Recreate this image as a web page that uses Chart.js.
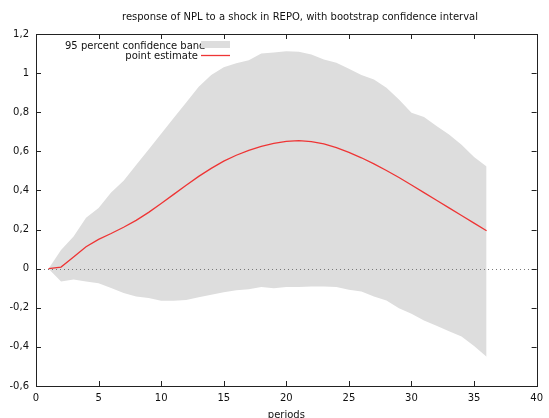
<!DOCTYPE html>
<html>
<head>
<meta charset="utf-8">
<script src="https://cdn.jsdelivr.net/npm/chart.js@4.4.1/dist/chart.umd.min.js"></script>
<style>
  html, body { margin: 0; padding: 0; background: #fff; }
</style>
</head>
<body>
<canvas id="irf" width="549" height="418"></canvas>
<script>
// data
const periods = [1, 2, 3, 4, 5, 6, 7, 8, 9, 10, 11, 12, 13, 14, 15, 16, 17, 18,
  19, 20, 21, 22, 23, 24, 25, 26, 27, 28, 29, 30, 31, 32, 33, 34, 35, 36];
const upperBand = [0, 0.095, 0.165, 0.26, 0.31, 0.39, 0.45, 0.53, 0.61, 0.69, 0.77, 0.85,
  0.93, 0.99, 1.03, 1.05, 1.066, 1.10, 1.105, 1.112, 1.109, 1.095, 1.07, 1.053,
  1.022, 0.99, 0.967, 0.925, 0.865, 0.797, 0.775, 0.73, 0.686, 0.634, 0.571, 0.523];
const lowerBand = [0, -0.065, -0.055, -0.065, -0.074, -0.099, -0.125, -0.142, -0.15, -0.164,
  -0.164, -0.16, -0.146, -0.134, -0.12, -0.11, -0.105, -0.094, -0.1, -0.094, -0.094,
  -0.091, -0.091, -0.094, -0.108, -0.117, -0.142, -0.163, -0.202, -0.231, -0.265,
  -0.292, -0.32, -0.347, -0.395, -0.45];
const pointEstimate = [0, 0.008, 0.06, 0.112, 0.15, 0.18, 0.212, 0.247, 0.288, 0.333,
  0.38, 0.427, 0.472, 0.513, 0.55, 0.58, 0.605, 0.625, 0.641, 0.651, 0.655, 0.65,
  0.638, 0.619, 0.595, 0.567, 0.536, 0.502, 0.466, 0.428, 0.389, 0.35, 0.311, 0.272,
  0.233, 0.194];
const xTicks = [0, 5, 10, 15, 20, 25, 30, 35, 40];
const yTicks = [-0.6, -0.4, -0.2, 0, 0.2, 0.4, 0.6, 0.8, 1, 1.2];

const titleText = 'response of NPL to a shock in REPO, with bootstrap confidence interval';
const xLabel = 'periods';
const bandLabel = '95 percent confidence band';
const lineLabel = 'point estimate';

const FONT = '10px "DejaVu Sans", sans-serif';
const bandColor = '#dddddd';
const lineColor = '#ee3535';

function pts(vals) {
  return periods.map((p, i) => ({ x: p, y: vals[i] }));
}
function fmt(v) {
  return String(Number(v.toFixed(1))).replace('.', ',');
}

// frame, inward ticks, zero line, title and legend, gnuplot style
const gnuplotDecor = {
  id: 'gnuplotDecor',
  afterDatasetDraw(chart, args) {
    // zero line goes over the band but under the red line
    if (args.index !== 1) return;
    const ctx = chart.ctx;
    const { left, right } = chart.chartArea;
    const y0 = Math.round(chart.scales.y.getPixelForValue(0)) + 0.5;
    ctx.save();
    ctx.strokeStyle = '#777';
    ctx.lineWidth = 1;
    ctx.setLineDash([1, 3]);
    ctx.beginPath();
    ctx.moveTo(left, y0);
    ctx.lineTo(right, y0);
    ctx.stroke();
    ctx.restore();
  },
  afterDraw(chart) {
    const ctx = chart.ctx;
    const { left, right, top, bottom } = chart.chartArea;
    const xs = chart.scales.x, ys = chart.scales.y;
    ctx.save();
    ctx.strokeStyle = '#222';
    ctx.lineWidth = 1;
    ctx.strokeRect(Math.round(left) + 0.5, Math.round(top) + 0.5,
      Math.round(right - left), Math.round(bottom - top));
    ctx.beginPath();
    xTicks.forEach(v => {
      const x = Math.round(xs.getPixelForValue(v)) + 0.5;
      ctx.moveTo(x, bottom); ctx.lineTo(x, bottom - 5);
      ctx.moveTo(x, top); ctx.lineTo(x, top + 5);
    });
    yTicks.forEach(v => {
      const y = Math.round(ys.getPixelForValue(v)) + 0.5;
      ctx.moveTo(left, y); ctx.lineTo(left + 5, y);
      ctx.moveTo(right, y); ctx.lineTo(right - 5, y);
    });
    ctx.stroke();

    ctx.fillStyle = '#111';
    ctx.font = FONT;
    ctx.textBaseline = 'middle';
    ctx.textAlign = 'center';
    ctx.fillText(titleText, 300, 17);
    ctx.fillText(xLabel, (left + right) / 2, 415);

    // legend
    ctx.textAlign = 'left';
    ctx.fillText(bandLabel, 65, 46);
    ctx.textAlign = 'right';
    ctx.fillText(lineLabel, 198, 56);
    ctx.fillStyle = bandColor;
    ctx.fillRect(201, 41, 29, 7);
    ctx.strokeStyle = lineColor;
    ctx.lineWidth = 1.3;
    ctx.beginPath();
    ctx.moveTo(201, 55.5);
    ctx.lineTo(230, 55.5);
    ctx.stroke();
    ctx.restore();
  }
};

new Chart(document.getElementById('irf'), {
  type: 'line',
  data: {
    datasets: [
      {
        label: bandLabel,
        data: pts(upperBand),
        borderWidth: 0,
        borderColor: bandColor,
        backgroundColor: bandColor,
        pointRadius: 0,
        fill: '+1',
        tension: 0,
        order: 2
      },
      {
        label: 'lower',
        data: pts(lowerBand),
        borderWidth: 0,
        borderColor: bandColor,
        backgroundColor: bandColor,
        pointRadius: 0,
        fill: false,
        tension: 0,
        order: 1
      },
      {
        label: lineLabel,
        data: pts(pointEstimate),
        borderColor: lineColor,
        borderWidth: 1.3,
        pointRadius: 0,
        fill: false,
        tension: 0,
        order: 0
      }
    ]
  },
  options: {
    responsive: false,
    animation: false,
    devicePixelRatio: 1,
    layout: { padding: { left: 0, right: 7, top: 34, bottom: 0 } },
    plugins: {
      legend: { display: false },
      title: { display: false },
      tooltip: { enabled: false }
    },
    scales: {
      x: {
        type: 'linear',
        min: 0,
        max: 40,
        afterBuildTicks: s => { s.ticks = xTicks.map(v => ({ value: v })); },
        afterFit: s => { s.height = 32; },
        grid: { display: false, drawTicks: false },
        border: { display: false },
        ticks: {
          padding: 6,
          maxRotation: 0,
          autoSkip: false,
          color: '#111',
          font: { family: '"DejaVu Sans", sans-serif', size: 10 },
          callback: v => fmt(v)
        }
      },
      y: {
        type: 'linear',
        min: -0.6,
        max: 1.2,
        afterBuildTicks: s => { s.ticks = yTicks.map(v => ({ value: v })); },
        afterFit: s => { s.width = 36; },
        grid: { display: false, drawTicks: false },
        border: { display: false },
        ticks: {
          padding: 7,
          autoSkip: false,
          color: '#111',
          font: { family: '"DejaVu Sans", sans-serif', size: 10 },
          callback: v => fmt(v)
        }
      }
    }
  },
  plugins: [gnuplotDecor]
});
</script>
</body>
</html>
